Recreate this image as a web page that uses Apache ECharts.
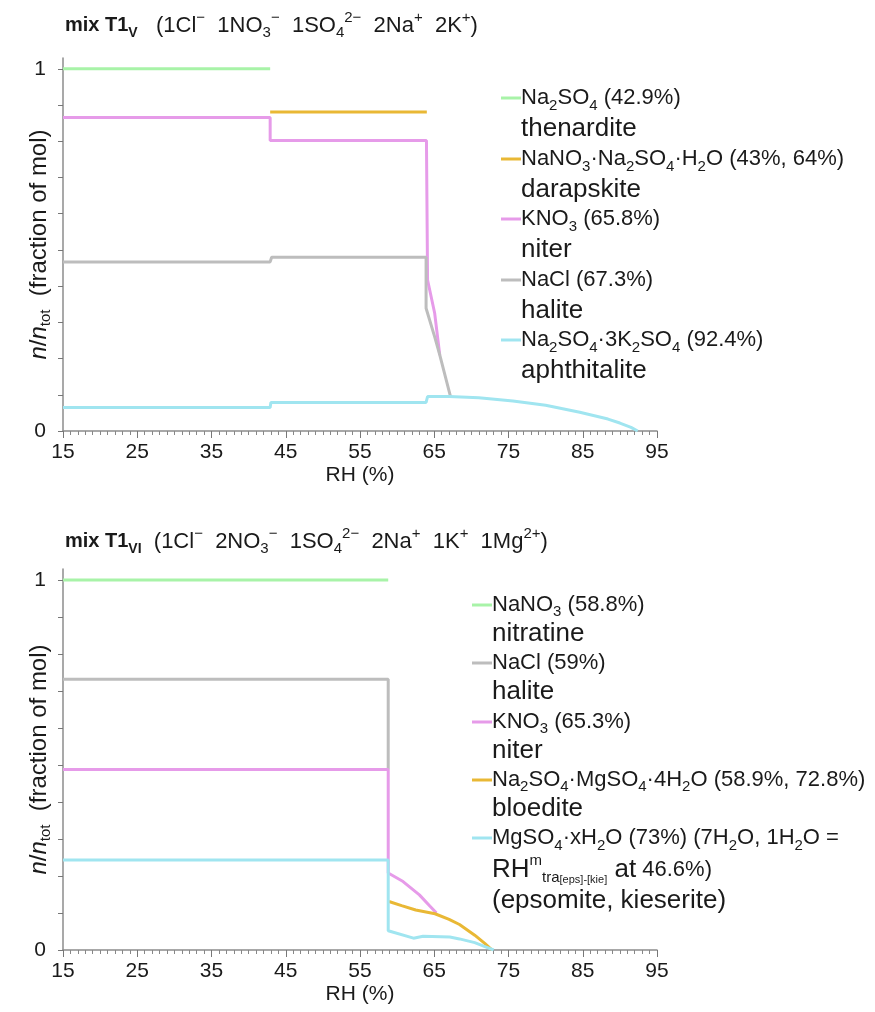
<!DOCTYPE html>
<html><head><meta charset="utf-8">
<script src="https://cdn.jsdelivr.net/npm/echarts@6/dist/echarts.min.js"></script>
<style>html,body{margin:0;padding:0;background:#fff}#c{width:875px;height:1012px}</style>
</head><body><div id="c"></div>
<script>
// ---------------- data ----------------
const xTicks = [15, 25, 35, 45, 55, 65, 75, 85, 95];
const yTickValues = [0, 0.1, 0.2, 0.3, 0.4, 0.5, 0.6, 0.7, 0.8, 0.9, 1];
const yLabelValues = [0, 1];

// panel 1: mix T1_V   points are [RH %, n/ntot]
const t1vThenardite = [[15, 1], [42.9, 1]];
const t1vDarapskite = [[42.9, 0.881], [64.0, 0.881]];
const t1vNiter = [[15, 0.866], [42.9, 0.866], [42.9, 0.802], [63.95, 0.802], [64.1, 0.417], [65.06, 0.325], [65.74, 0.21]];
const t1vHalite = [[15, 0.467], [42.9, 0.467], [43.1, 0.48], [63.9, 0.48], [63.9, 0.339], [65.06, 0.26], [65.74, 0.21], [67.2, 0.094]];
const t1vAphthitalite = [[15, 0.065], [42.9, 0.065], [43.0, 0.079], [63.9, 0.079], [64.1, 0.095], [67, 0.095], [71, 0.092], [75.6, 0.083], [80, 0.071], [84.6, 0.052], [88.4, 0.033], [90, 0.022], [91.5, 0.01], [92.4, 0]];

// panel 2: mix T1_VI
const t1viNitratine = [[15, 1], [58.8, 1]];
const t1viHalite = [[15, 0.732], [58.8, 0.732], [58.8, 0.488]];
const t1viNiter = [[15, 0.488], [58.8, 0.488], [58.8, 0.208], [60.8, 0.185], [63.0, 0.149], [64.4, 0.119], [65.3, 0.1]];
const t1viBloedite = [[58.9, 0.131], [60.6, 0.12], [62.5, 0.108], [65.1, 0.098], [67, 0.083], [68.4, 0.069], [70.45, 0.04], [71.8, 0.018], [72.8, 0]];
const t1viEpsomite = [[15, 0.243], [58.8, 0.243], [58.8, 0.052], [62.2, 0.032], [63.5, 0.037], [67.1, 0.035], [68.4, 0.03], [70.45, 0.02], [72, 0.008], [73, 0]];

// series names (categories)
const t1vNames = ['Na2SO4 (42.9%) thenardite', 'NaNO3·Na2SO4·H2O (43%, 64%) darapskite', 'KNO3 (65.8%) niter', 'NaCl (67.3%) halite', 'Na2SO4·3K2SO4 (92.4%) aphthitalite'];
const t1viNames = ['NaNO3 (58.8%) nitratine', 'NaCl (59%) halite', 'KNO3 (65.3%) niter', 'Na2SO4·MgSO4·4H2O (58.9%, 72.8%) bloedite', 'MgSO4·xH2O (73%) epsomite, kieserite'];

// legend labels (rich text: f formula, s subscript, m mineral name)
const t1vLabels = [
  '{f|Na}{s|2}{f|SO}{s|4}{f| (42.9%)}\n{m|thenardite}',
  '{f|NaNO}{s|3}{f|·Na}{s|2}{f|SO}{s|4}{f|·H}{s|2}{f|O (43%, 64%)}\n{m|darapskite}',
  '{f|KNO}{s|3}{f| (65.8%)}\n{m|niter}',
  '{f|NaCl (67.3%)}\n{m|halite}',
  '{f|Na}{s|2}{f|SO}{s|4}{f|·3K}{s|2}{f|SO}{s|4}{f| (92.4%)}\n{m|aphthitalite}'
];
const t1viLabels = [
  '{f|NaNO}{s|3}{f| (58.8%)}\n{m|nitratine}',
  '{f|NaCl (59%)}\n{m|halite}',
  '{f|KNO}{s|3}{f| (65.3%)}\n{m|niter}',
  '{f|Na}{s|2}{f|SO}{s|4}{f|·MgSO}{s|4}{f|·4H}{s|2}{f|O (58.9%, 72.8%)}\n{m|bloedite}',
  '{f|MgSO}{s|4}{f|·xH}{s|2}{f|O (73%) (7H}{s|2}{f|O, 1H}{s|2}{f|O =}\n{m|RH}{sup|m}{s|tra}{ss|[eps]-[kie]}{m| at}{f| 46.6%)}\n{m|(epsomite, kieserite)}'
];

const t1vTitle = '{b|mix T1}{bs|V}{n|   (1Cl}{p|−}{n|  1NO}{s|3}{p|−}{n|  1SO}{s|4}{p|2−}{n|  2Na}{p|+}{n|  2K}{p|+}{n|)}';
const t1viTitle = '{b|mix T1}{bs|VI}{n|  (1Cl}{p|−}{n|  2NO}{s|3}{p|−}{n|  1SO}{s|4}{p|2−}{n|  2Na}{p|+}{n|  1K}{p|+}{n|  1Mg}{p|2+}{n|)}';
const yName = '{i|n}{n|/}{i|n}{s|tot}{n|  (fraction of mol)}';
const xName = 'RH (%)';

// ---------------- styles ----------------
const FONT = "'Liberation Sans', Arial, Helvetica, sans-serif";
const TXT = '#1a1a1a';
const COL = { green: '#a8f3a8', orange: '#e9b835', pink: '#e69be9', grey: '#bdbdbd', cyan: '#a0e5f0' };
const t1vColors = [COL.green, COL.orange, COL.pink, COL.grey, COL.cyan];
const t1viColors = [COL.green, COL.grey, COL.pink, COL.orange, COL.cyan];

function rs(size, extra) { return Object.assign({ fontFamily: FONT, fontSize: size, color: TXT }, extra || {}); }
function legendRich(L) {
  return {
    f: rs(22, { lineHeight: L }),
    s: rs(15, { lineHeight: L - 8, verticalAlign: 'bottom' }),
    m: rs(26, { lineHeight: L }),
    sup: rs(15, { lineHeight: L - 14, verticalAlign: 'top' }),
    ss: rs(11, { lineHeight: Math.max(4, L - 24), verticalAlign: 'bottom' })
  };
}
const titleRich = {
  b: rs(20, { fontWeight: 'bold', lineHeight: 30 }),
  bs: rs(14, { fontWeight: 'bold', lineHeight: 22, verticalAlign: 'bottom' }),
  n: rs(22, { lineHeight: 30 }),
  s: rs(15, { lineHeight: 22, verticalAlign: 'bottom' }),
  p: rs(15, { lineHeight: 16, verticalAlign: 'top' })
};
const yNameRich = {
  i: rs(24, { fontStyle: 'italic', lineHeight: 28 }),
  n: rs(24, { lineHeight: 28 }),
  s: rs(15, { lineHeight: 20, verticalAlign: 'bottom' })
};

function makeLegend(name, label, left, firstCenter, L, nLines) {
  const pad = L * (nLines - 1);
  return {
    data: [name], left: left, top: firstCenter - 11,
    orient: 'vertical', padding: 0, itemGap: 0, itemWidth: 20, itemHeight: 3,
    icon: 'rect',
    selectedMode: false,
    formatter: function () { return label; },
    textStyle: { padding: [pad, 0, 0, -5], color: TXT, fontFamily: FONT, rich: legendRich(L) }
  };
}

const legends = [];
const t1vCenters = [98, 159, 219, 280, 340];
t1vNames.forEach((n, i) => legends.push(makeLegend(n, t1vLabels[i], 501, t1vCenters[i], 31, 2)));
const t1viCenters = [605, 663, 722, 780, 838];
const t1viLH = [29, 29, 29, 29, 31.5];
const t1viLines = [2, 2, 2, 2, 3];
t1viNames.forEach((n, i) => legends.push(makeLegend(n, t1viLabels[i], 472, t1viCenters[i], t1viLH[i], t1viLines[i])));

function mkX(gi) {
  return {
    type: 'value', gridIndex: gi, min: xTicks[0], max: xTicks[xTicks.length - 1], interval: xTicks[1] - xTicks[0],
    name: xName, nameLocation: 'middle', nameGap: 34, nameMoveOverlap: false,
    nameTextStyle: { fontFamily: FONT, fontSize: 21, color: TXT },
    axisLine: { show: true, lineStyle: { color: '#8c8c8c', width: 1.5 } },
    axisTick: { show: true, length: 7, lineStyle: { color: '#777', width: 1 } },
    minorTick: { show: true, splitNumber: 10, length: 4, lineStyle: { color: '#888', width: 1 } },
    axisLabel: { fontFamily: FONT, fontSize: 21, color: TXT, margin: 11, showMinLabel: true, showMaxLabel: true },
    splitLine: { show: false }, minorSplitLine: { show: false }
  };
}
function mkY(gi) {
  return {
    type: 'value', gridIndex: gi, min: 0, max: 1.03, interval: 0.1,
    name: yName, nameLocation: 'middle', nameGap: 10, nameMoveOverlap: false, nameTextStyle: { rich: yNameRich },
    axisLine: { show: true, lineStyle: { color: '#8c8c8c', width: 1.5 } },
    axisTick: { show: true, length: 5, customValues: yTickValues, lineStyle: { color: '#777', width: 1 } },
    axisLabel: {
      customValues: yLabelValues, fontFamily: FONT, fontSize: 21, color: TXT, margin: 17,
      formatter: function (v) { return yLabelValues.indexOf(v) >= 0 ? String(v) : ''; }
    },
    splitLine: { show: false }
  };
}

function mkSeries(name, data, color, gi) {
  return {
    type: 'line', name: name, data: data, xAxisIndex: gi, yAxisIndex: gi,
    symbol: 'none', showSymbol: false, smooth: false,
    lineStyle: { width: 3, color: color }, itemStyle: { color: color },
    emphasis: { disabled: true }
  };
}
const t1vData = [t1vThenardite, t1vDarapskite, t1vNiter, t1vHalite, t1vAphthitalite];
const t1viData = [t1viNitratine, t1viHalite, t1viNiter, t1viBloedite, t1viEpsomite];
const series = [];
t1vNames.forEach((n, i) => series.push(mkSeries(n, t1vData[i], t1vColors[i], 0)));
t1viNames.forEach((n, i) => series.push(mkSeries(n, t1viData[i], t1viColors[i], 1)));

const option = {
  animation: false,
  backgroundColor: '#ffffff',
  title: [
    { left: 65, top: 10.5, padding: 0, text: t1vTitle, textStyle: { fontWeight: 'normal', rich: titleRich } },
    { left: 65, top: 526.5, padding: 0, text: t1viTitle, textStyle: { fontWeight: 'normal', rich: titleRich } }
  ],
  legend: legends,
  grid: [
    { left: 63, top: 58, width: 594, height: 373 },
    { left: 63, top: 569, width: 594, height: 381 }
  ],
  xAxis: [mkX(0), mkX(1)],
  yAxis: [mkY(0), mkY(1)],
  series: series
};
const chart = echarts.init(document.getElementById('c'), null, { renderer: 'canvas' });
chart.setOption(option);
</script>
</body></html>
